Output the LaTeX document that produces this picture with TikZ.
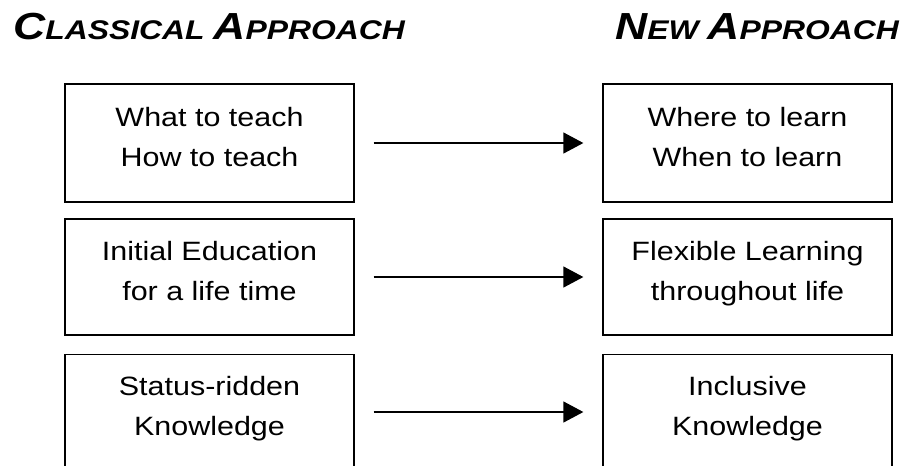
\documentclass[tikz,border=0pt]{standalone}
\usepackage{fontspec}
\usetikzlibrary{arrows.meta}
\setmainfont{Liberation Sans}
% body text and headings, slightly widened
\newfontfamily\bodyfont[FakeStretch=1.15]{Liberation Sans}
\newfontfamily\headfont[FakeStretch=1.18]{Liberation Sans}
% hand-made small capitals for the headings
\newcommand\hdbig[1]{{\fontsize{37.7}{40}\selectfont #1}}
\newcommand\hdsml[1]{{\fontsize{27}{40}\selectfont #1}}
\begin{document}
\begin{tikzpicture}[x=1pt,y=-1pt,
  stepbox/.style={draw=black, line width=1.3pt, minimum width=289pt,
    inner sep=0pt, align=center,
    font=\bodyfont\fontsize{26.5}{40}\selectfont,
    execute at begin node=\strut, execute at end node=\strut},
  heading/.style={anchor=base west, inner sep=0pt,
    font=\headfont\bfseries\itshape\fontsize{27}{40}\selectfont},
  arr/.style={line width=1.3pt, shorten <=19pt, shorten >=19pt,
    -{Triangle[length=20pt,width=21pt]}}]
\useasboundingbox (0,0) rectangle (908,466);
\clip (0,0) rectangle (908,466);

% column headings
\node[heading] (hl) at (13,39) {\hdbig{C}\hdsml{LASSICAL} \hdbig{A}\hdsml{PPROACH}};
\node[heading] (hr) at (615,39) {\hdbig{N}\hdsml{EW} \hdbig{A}\hdsml{PPROACH}};

% classical side
\node[stepbox, minimum height=118pt] (c1) at (209.5,143) {What to teach\\How to teach};
\node[stepbox, minimum height=116pt] (c2) at (209.5,277) {Initial Education\\for a life time};
\node[stepbox, minimum height=115pt] (c3) at (209.5,412) {Status-ridden\\Knowledge};

% new side
\node[stepbox, minimum height=118pt] (n1) at (747.5,143) {Where to learn\\When to learn};
\node[stepbox, minimum height=116pt] (n2) at (747.5,277) {Flexible Learning\\throughout life};
\node[stepbox, minimum height=115pt] (n3) at (747.5,412) {Inclusive\\Knowledge};

% transitions
\draw[arr] (c1) -- (n1);
\draw[arr] (c2) -- (n2);
\draw[arr] (c3) -- (n3);
\end{tikzpicture}
\end{document}
